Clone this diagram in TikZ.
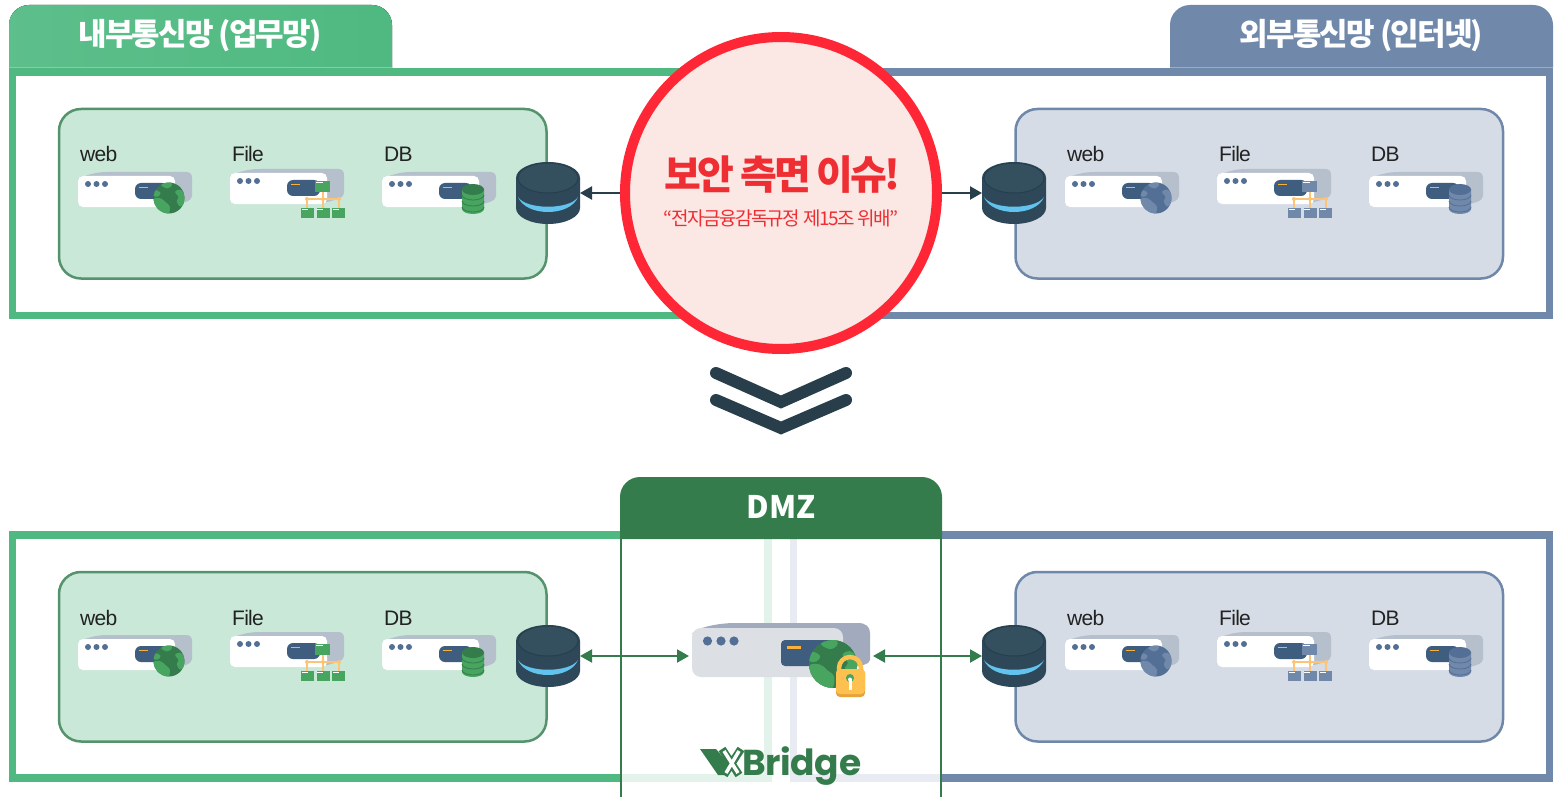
\documentclass[tikz,border=0pt]{standalone}
\usepackage{fontspec}
\usetikzlibrary{arrows.meta,calc}
\setmainfont{Noto Sans CJK KR}
\newfontfamily\krtight[LetterSpace=-6]{Noto Sans CJK KR}
\newfontfamily\krmid[LetterSpace=-8]{Noto Sans CJK KR}
\newfontfamily\latinlab[LetterSpace=-3.5]{Liberation Sans}
\newfontfamily\logofont[LetterSpace=-1]{Poppins}
\definecolor{frameG}{HTML}{4FB981}
\definecolor{frameB}{HTML}{7089AB}
\definecolor{panelG}{HTML}{C9E8D8}
\definecolor{panelGl}{HTML}{54936C}
\definecolor{panelB}{HTML}{D5DCE6}
\definecolor{panelBl}{HTML}{6F88A9}
\definecolor{dmz}{HTML}{357C4C}
\definecolor{alertR}{HTML}{FF2635}
\definecolor{alertF}{HTML}{FBE7E3}
\definecolor{alertT}{HTML}{EE2E33}
\definecolor{navy}{HTML}{283F4B}
\definecolor{discA}{HTML}{2F4859}
\definecolor{discB}{HTML}{34505F}
\definecolor{discC}{HTML}{263F4D}
\definecolor{discBlue}{HTML}{62C4EE}
\definecolor{pill}{HTML}{3F5D7F}
\definecolor{dots}{HTML}{536F95}
\definecolor{backS}{HTML}{B6BFCC}
\definecolor{backL}{HTML}{A1ABBD}
\definecolor{bodyL}{HTML}{DCDFE4}
\definecolor{amber}{HTML}{FBB03B}
\definecolor{lockA}{HTML}{FEC04F}
\definecolor{lockB}{HTML}{E8A23C}
\definecolor{wire}{HTML}{FBC477}
\definecolor{gDark}{HTML}{357C4C}
\definecolor{gLight}{HTML}{47A55F}
\definecolor{bDark}{HTML}{536F95}
\definecolor{bLight}{HTML}{7089AB}
\definecolor{fadeG}{HTML}{E3F2EA}
\definecolor{fadeB}{HTML}{E8EBF1}
\definecolor{labelT}{HTML}{222222}
\tikzset{
  panelbox/.style={rounded corners=22pt,line width=2.5pt},
  srvlabel/.style={anchor=base west,inner sep=0pt,text=labelT,font=\latinlab\fontsize{21}{24}\selectfont},
  tabtext/.style={inner sep=0pt,text=white,font=\krtight\bfseries\fontsize{31}{36}\selectfont},
  darrow/.style={draw=navy,line width=2.2pt,{Triangle[length=12pt,width=13pt]}-},
  garrow/.style={draw=dmz,line width=2pt,{Triangle[length=12pt,width=13pt]}-{Triangle[length=12pt,width=13pt]}},
  discnode/.style={minimum width=64pt,minimum height=62pt,inner sep=0pt,outer sep=0pt},
}
% small server: origin is the top left of the white body
\newcommand\srvsmall[2]{%
  \fill[backS] (#1,#2+3) .. controls (#1+10,#2-2) and (#1+20,#2-4) .. (#1+30,#2-4)
    -- (#1+108,#2-4) .. controls (#1+112,#2-4) and (#1+114,#2-2) .. (#1+114,#2+2)
    -- (#1+114,#2+20) .. controls (#1+114,#2+25) and (#1+105,#2+27) .. (#1+97,#2+29) -- cycle;
  \fill[white,rounded corners=5pt] (#1,#2) rectangle (#1+97,#2+31);
  \foreach \d in {10,18.5,27} \fill[dots] (#1+\d,#2+8) circle [radius=3];
  \fill[pill,rounded corners=6pt] (#1+57,#2+7) rectangle (#1+90,#2+23);
  \draw[amber,line width=1.8pt] (#1+61,#2+11.5) -- (#1+70,#2+11.5);
}
% globe: centre, radius, land colour, water colour
\newcommand\globeicon[5]{%
  \begin{scope}[shift={(#1,#2)},x=#3pt,y=-#3pt]
    \fill[#4] (0,0) circle [radius=1];
    \begin{scope}
      \clip (0,0) circle [radius=1];
      \fill[#5] plot[smooth cycle,tension=.7] coordinates {(-1,.1) (-.55,.02) (-.25,.25) (.05,.55) (-.1,1.05) (-.75,.75)};
      \fill[#5] plot[smooth cycle,tension=.7] coordinates {(.4,-.4) (.8,-.5) (1.05,.1) (.75,.55) (.5,.2) (.62,-.05)};
      \fill[#5] plot[smooth cycle,tension=.7] coordinates {(-.5,-.85) (-.1,-.62) (.2,-.85) (0,-1.05)};
      \fill[#5] plot[smooth cycle,tension=.7] coordinates {(-.9,-.5) (-.55,-.35) (-.7,-.1) (-1,-.15)};
    \end{scope}
  \end{scope}
}
\newcommand\folder[5]{% x y w h colour
  \fill[#5] (#1,#2) rectangle (#1+#3,#2+#4);
  \fill[white] (#1+.8,#2+.6) rectangle (#1+#3*.5,#2+1.6);
}
\newcommand\fileicon[5]{% origin, colour, unused
  \draw[wire,line width=1.5pt] (#1+77,#2+26) -- (#1+109,#2+26)
    (#1+77,#2+26) -- (#1+77,#2+36) (#1+93,#2+18) -- (#1+93,#2+36) (#1+109,#2+26) -- (#1+109,#2+36);
  \foreach \u in {77,93,109} \fill[wire] (#1+\u,#2+26) circle [radius=2];
  \folder{#1+85}{#2+8}{15}{11}{#3}
  \folder{#1+71}{#2+35}{13}{10}{#3}
  \folder{#1+86.5}{#2+35}{13}{10}{#3}
  \folder{#1+102}{#2+35}{13}{10}{#3}
}
\newcommand\cylicon[4]{% origin, dark, light
  \begin{scope}[shift={(#1+91,#2)}]
    \fill[#4] (-11,13) -- (-11,33) arc [start angle=180,end angle=0,x radius=11,y radius=5] -- (11,13) -- cycle;
    \foreach \q in {19,25,31} \draw[#3,line width=.8pt] (-11,\q) arc [start angle=180,end angle=0,x radius=11,y radius=5];
    \fill[#3] (0,13.5) ellipse [x radius=11,y radius=5.5];
  \end{scope}
}
% big storage disc with a named node to connect to
\newcommand\discstack[3]{%
  \node[discnode] (#1) at (#2,#3) {};
  \begin{scope}[shift={(#2,#3)}]
    \fill[discA] (-32,-15) -- (-32,15) arc [start angle=180,end angle=0,x radius=32,y radius=16] -- (32,-15) -- cycle;
    \fill[discBlue] (-30,4) .. controls (-22,24) and (22,24) .. (30,4) .. controls (22,17) and (-22,17) .. cycle;
    \fill[discA] (0,-15) ellipse [x radius=32,y radius=16];
    \draw[discC,fill=discB,line width=1pt] (0,-15) ellipse [x radius=30,y radius=15];
  \end{scope}
}
% one network panel with its three servers
\newcommand\netpanel[9]{% name, dx, dy, fill, line, pill-dark, pill-light
  \draw[panelbox,fill=#4,draw=#5] (59+#2,109+#3) rectangle (546.5+#2,278.5+#3);
  \node[srvlabel] (#1web) at (80+#8,162+#3) {web};
  \node[srvlabel] (#1file) at (232+#8,162+#3) {File};
  \node[srvlabel] (#1db) at (384+#8,162+#3) {DB};
  \srvsmall{78+#8}{176+#3}
  \globeicon{169+#8}{198+#3}{15.5}{#6}{#7}
  \srvsmall{230+#8}{173+#3}
  \fileicon{230+#8}{173+#3}{#9}{}{}
  \srvsmall{382+#8}{176+#3}
  \cylicon{382+#8}{176+#3}{#6}{#9}
}
\begin{document}
\begin{tikzpicture}[x=1pt,y=-1pt]
\useasboundingbox (0,0) rectangle (1559,797);
\fill[white] (0,0) rectangle (1559,797);
% title tabs
\fill[left color=frameG!92!white,right color=frameG] (9,68) [rounded corners=20pt] -- (9,5) -- (392,5) [sharp corners] -- (392,68) -- cycle;
\fill[frameB] (1170,68) [rounded corners=20pt] -- (1170,5) -- (1553,5) [sharp corners] -- (1553,68) -- cycle;
\node[tabtext] (tabL) at (200,36) {내부통신망 (업무망)};
\node[tabtext] (tabR) at (1361.5,36) {외부통신망 (인터넷)};
% upper frames
\draw[frameG,line width=7.5pt,line cap=butt] (781,72) -- (12.5,72) -- (12.5,315.5) -- (781,315.5);
\draw[frameB,line width=7.5pt] (781,72) -- (1549.5,72) -- (1549.5,315.5) -- (781,315.5);
\draw[frameG!70!white,line width=.8pt] (9,67.8) -- (392,67.8);
\draw[frameB!70!white,line width=.8pt] (1170,67.8) -- (1553,67.8);
% lower frames
\draw[frameG,line width=7.5pt] (781,535) -- (12.5,535) -- (12.5,778) -- (781,778);
\draw[frameB,line width=7.5pt] (781,535) -- (1549.5,535) -- (1549.5,778) -- (781,778);
% panels
\netpanel{upL}{0}{0}{panelG}{panelGl}{gDark}{gLight}{0}{gLight}
\netpanel{upR}{956.5}{0}{panelB}{panelBl}{bDark}{bLight}{987}{bLight}
\netpanel{loL}{0}{463}{panelG}{panelGl}{gDark}{gLight}{0}{gLight}
\netpanel{loR}{956.5}{463}{panelB}{panelBl}{bDark}{bLight}{987}{bLight}
% discs
\discstack{discUL}{548}{193}
\discstack{discUR}{1014}{193}
\discstack{discLL}{548}{656}
\discstack{discLR}{1014}{656}
% alert circle
\node[circle,draw=alertR,fill=alertF,line width=10pt,minimum size=312pt,inner sep=0pt] (alert) at (781,193) {};
\node[inner sep=0pt,text=alertT,font=\krmid\bfseries\fontsize{40}{46}\selectfont] (alertA) at (782,175) {보안 측면 이슈!};
\node[inner sep=0pt,text=alertT,font=\krmid\fontsize{19}{22}\selectfont] (alertB) at (781,218) {“전자금융감독규정 제15조 위배”};
\draw[darrow] (discUL.east) -- (alert.west);
\draw[darrow] (discUR.west) -- (alert.east);
% chevrons
\draw[navy,line width=12pt,line cap=round,line join=miter] (716,373) -- (781,402) -- (846,373);
\draw[navy,line width=12pt,line cap=round,line join=miter] (716,400) -- (781,428) -- (846,400);
% DMZ
\fill[white] (621,539) rectangle (941,797);
\fill[fadeG] (764,539) rectangle (772,782);
\fill[fadeG] (622,774) rectangle (772,782);
\fill[fadeB] (790,539) rectangle (797,782);
\fill[fadeB] (790,774) rectangle (940,782);
\draw[dmz,line width=2pt] (621,539) -- (621,797) (941,539) -- (941,797);
\fill[dmz] (620,539) [rounded corners=20pt] -- (620,477) -- (942,477) [sharp corners] -- (942,539) -- cycle;
\node[tabtext,font=\bfseries\fontsize{31}{36}\selectfont] (dmzT) at (781,507) {DMZ};
% gateway server
\node[minimum width=178pt,minimum height=54pt,inner sep=0pt,outer sep=3pt] (gate) at (781,656) {};
\fill[backL] (692,634) .. controls (697,627) and (720,623) .. (735,623) -- (858,623) .. controls (866,623) and (870,627) .. (870,633) -- (870,660) .. controls (870,664) and (860,667) .. (843,668) -- cycle;
\fill[bodyL,rounded corners=9pt] (692,628) rectangle (843,677);
\foreach \d in {707.5,721,734} \fill[dots] (\d,641) circle [radius=4.6];
\fill[pill,rounded corners=4pt] (781,640) rectangle (835,666);
\draw[amber,line width=2.6pt] (787,647.5) -- (801,647.5);
\globeicon{833}{664}{24}{gDark}{gLight}
% padlock
\draw[lockA,line width=4.5pt] (839,672) -- (839,668) arc [start angle=180,end angle=360,radius=11] -- (861,672);
\fill[lockB,rounded corners=4pt] (836,669) rectangle (865,697);
\fill[lockA,rounded corners=4pt] (836,669) rectangle (865,694);
\fill[gLight] (850,678) circle [radius=4];
\fill[white] (850,679.5) circle [radius=2];
\fill[white] (849,680) rectangle (851.5,690);
\draw[garrow] (discLL.east) -- (gate.west);
\draw[garrow] (gate.east) -- (discLR.west);
% logo
\fill[dmz] (700,749) -- (716,749) -- (731,767) -- (727,775) -- (718,775) -- cycle;
\draw[dmz,line width=8pt] (722,749) -- (739,775) (741,749) -- (724,775);
\draw[white,line width=3.5pt] (724,751) -- (738,773) (739,751) -- (726,773);
\node[anchor=base west,inner sep=0pt,text=dmz,font=\logofont\bfseries\fontsize{36}{40}\selectfont] (logo) at (742,775) {Bridge};
\end{tikzpicture}
\end{document}
